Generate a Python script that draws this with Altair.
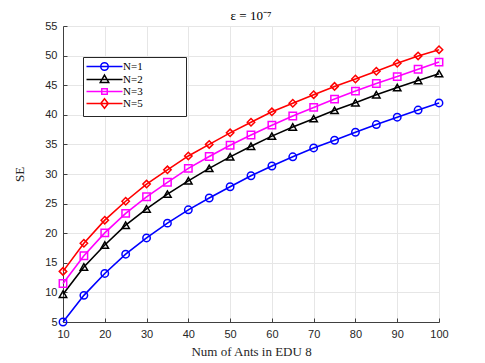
import altair as alt
import pandas as pd

x_vals = [10, 15, 20, 25, 30, 35, 40, 45, 50, 55, 60, 65, 70, 75, 80, 85, 90, 95, 100]
n1 = [5.0, 9.5, 13.2, 16.45, 19.2, 21.7, 23.95, 25.95, 27.85, 29.7, 31.35, 32.9, 34.4, 35.7, 37.05, 38.35, 39.6, 40.8, 42.0]
n2 = [9.7, 14.3, 18.0, 21.35, 24.1, 26.6, 28.85, 30.95, 32.9, 34.7, 36.4, 37.95, 39.35, 40.75, 42.05, 43.4, 44.6, 45.8, 46.95]
n3 = [11.5, 16.2, 20.05, 23.35, 26.15, 28.6, 30.95, 32.95, 34.85, 36.6, 38.25, 39.8, 41.25, 42.65, 44.0, 45.3, 46.45, 47.7, 48.9]
n5 = [13.55, 18.3, 22.2, 25.4, 28.3, 30.7, 33.05, 35.0, 36.95, 38.75, 40.5, 41.95, 43.4, 44.8, 46.05, 47.35, 48.7, 49.95, 51.0]

series_names = ["N=1", "N=2", "N=3", "N=5"]
series_vals = [n1, n2, n3, n5]
colors = ["#0000FF", "#000000", "#FF00FF", "#FF0000"]
shapes = ["circle", "triangle-up", "square", "diamond"]
legend_paths = [
    "M-4.5,0H4.5M-0.94,0A0.94,0.94,0,1,0,0.94,0A0.94,0.94,0,1,0,-0.94,0Z",
    "M-4.5,0H4.5M0,-1.12L1.06,0.75L-1.06,0.75Z",
    "M-4.5,0H4.5M-0.69,-0.69H0.69V0.69H-0.69Z",
    "M-4.5,0H4.5M0,-1.19L0.94,0L0,1.19L-0.94,0Z",
]
x_ticks = [10, 20, 30, 40, 50, 60, 70, 80, 90, 100]
y_ticks = [5, 10, 15, 20, 25, 30, 35, 40, 45, 50, 55]

rows = []
for name, vals in zip(series_names, series_vals):
    for xv, yv in zip(x_vals, vals):
        rows.append({"x": xv, "y": yv, "series": name, "lab": name})
df = pd.DataFrame(rows)

xs = alt.Scale(domain=[10, 100], nice=False, zero=False)
ys = alt.Scale(domain=[5, 55], nice=False, zero=False)
axis_color = "#404040"
sans = "Liberation Sans"
serif = "Liberation Serif"

main_x = alt.Axis(values=x_ticks, title="Num of Ants in EDU 8", titleFont=serif,
                  titleFontSize=13, titleFontWeight="normal", titleColor="#262626",
                  titlePadding=6, labelFont=sans, labelFontSize=11, labelColor="#262626",
                  labelPadding=6, ticks=False, domainColor=axis_color, domainWidth=1,
                  gridColor="#E6E6E6", gridWidth=1, format="d", labelFlush=False)
main_y = alt.Axis(values=y_ticks, title="SE", titleFont=serif, titleFontSize=13,
                  titleFontWeight="normal", titleColor="#262626", titlePadding=18,
                  labelFont=sans, labelFontSize=11, labelColor="#262626", labelPadding=6,
                  ticks=False, domainColor=axis_color, domainWidth=1,
                  gridColor="#E6E6E6", gridWidth=1, format="d", labelFlush=False)

base = alt.Chart(df)

lines = base.mark_line(strokeWidth=1.6).encode(
    x=alt.X("x:Q", scale=xs, axis=main_x),
    y=alt.Y("y:Q", scale=ys, axis=main_y),
    color=alt.Color("series:N", scale=alt.Scale(domain=series_names, range=colors), legend=None),
)

points = base.mark_point(filled=False, strokeWidth=1.5, size=55, opacity=1).encode(
    x=alt.X("x:Q", scale=xs, axis=None),
    y=alt.Y("y:Q", scale=ys, axis=None),
    color=alt.Color("series:N", scale=alt.Scale(domain=series_names, range=colors), legend=None),
    shape=alt.Shape("series:N", scale=alt.Scale(domain=series_names, range=shapes), legend=None),
)

leg = alt.Legend(title=None, orient="none", legendX=20, legendY=31, strokeColor="#262626",
                 fillColor="white", padding=4, labelFont=serif, labelFontSize=11,
                 labelColor="#000000", symbolSize=64, symbolStrokeWidth=1.5,
                 symbolOffset=12, labelOffset=13, rowPadding=-3, cornerRadius=0,
                 symbolOpacity=1, labelLimit=300,
                 labelExpr="datum.label + '\\u2003\\u2003\\u2003\\u2002\\u200b'")

legend_layer = base.mark_point(filled=False, opacity=0).encode(
    x=alt.X("x:Q", scale=xs, axis=None),
    y=alt.Y("y:Q", scale=ys, axis=None),
    color=alt.Color("lab:N", scale=alt.Scale(domain=series_names, range=colors), legend=leg),
    shape=alt.Shape("lab:N", scale=alt.Scale(domain=series_names, range=legend_paths), legend=leg),
)

tick_layer = base.mark_point(opacity=0).encode(
    x=alt.X("x:Q", scale=xs, axis=alt.Axis(values=x_ticks, labels=False, domain=False, grid=False,
                                             ticks=True, tickSize=4, tickColor=axis_color,
                                             offset=-4, title=None, orient="bottom")),
    y=alt.Y("y:Q", scale=ys, axis=alt.Axis(values=y_ticks, labels=False, domain=False, grid=False,
                                             ticks=True, tickSize=4, tickColor=axis_color,
                                             offset=-4, title=None, orient="left")),
)

chart = alt.layer(lines, points, legend_layer, tick_layer).resolve_scale(
    color="independent", shape="independent"
).resolve_axis(x="independent", y="independent").resolve_legend(
    color="independent", shape="independent"
).properties(
    width=376, height=296,
    title=alt.TitleParams("ε = 10⁻⁷", font=serif, fontSize=13, fontWeight="normal",
                          color="#000000", offset=-3, anchor="middle", frame="group"),
    autosize=alt.AutoSizeParams(type="none"),
    padding={"left": 55, "top": 18, "right": 30, "bottom": 40},
).configure_view(stroke=None)

chart.save("out.html", embed_options={"renderer": "svg", "actions": False})
